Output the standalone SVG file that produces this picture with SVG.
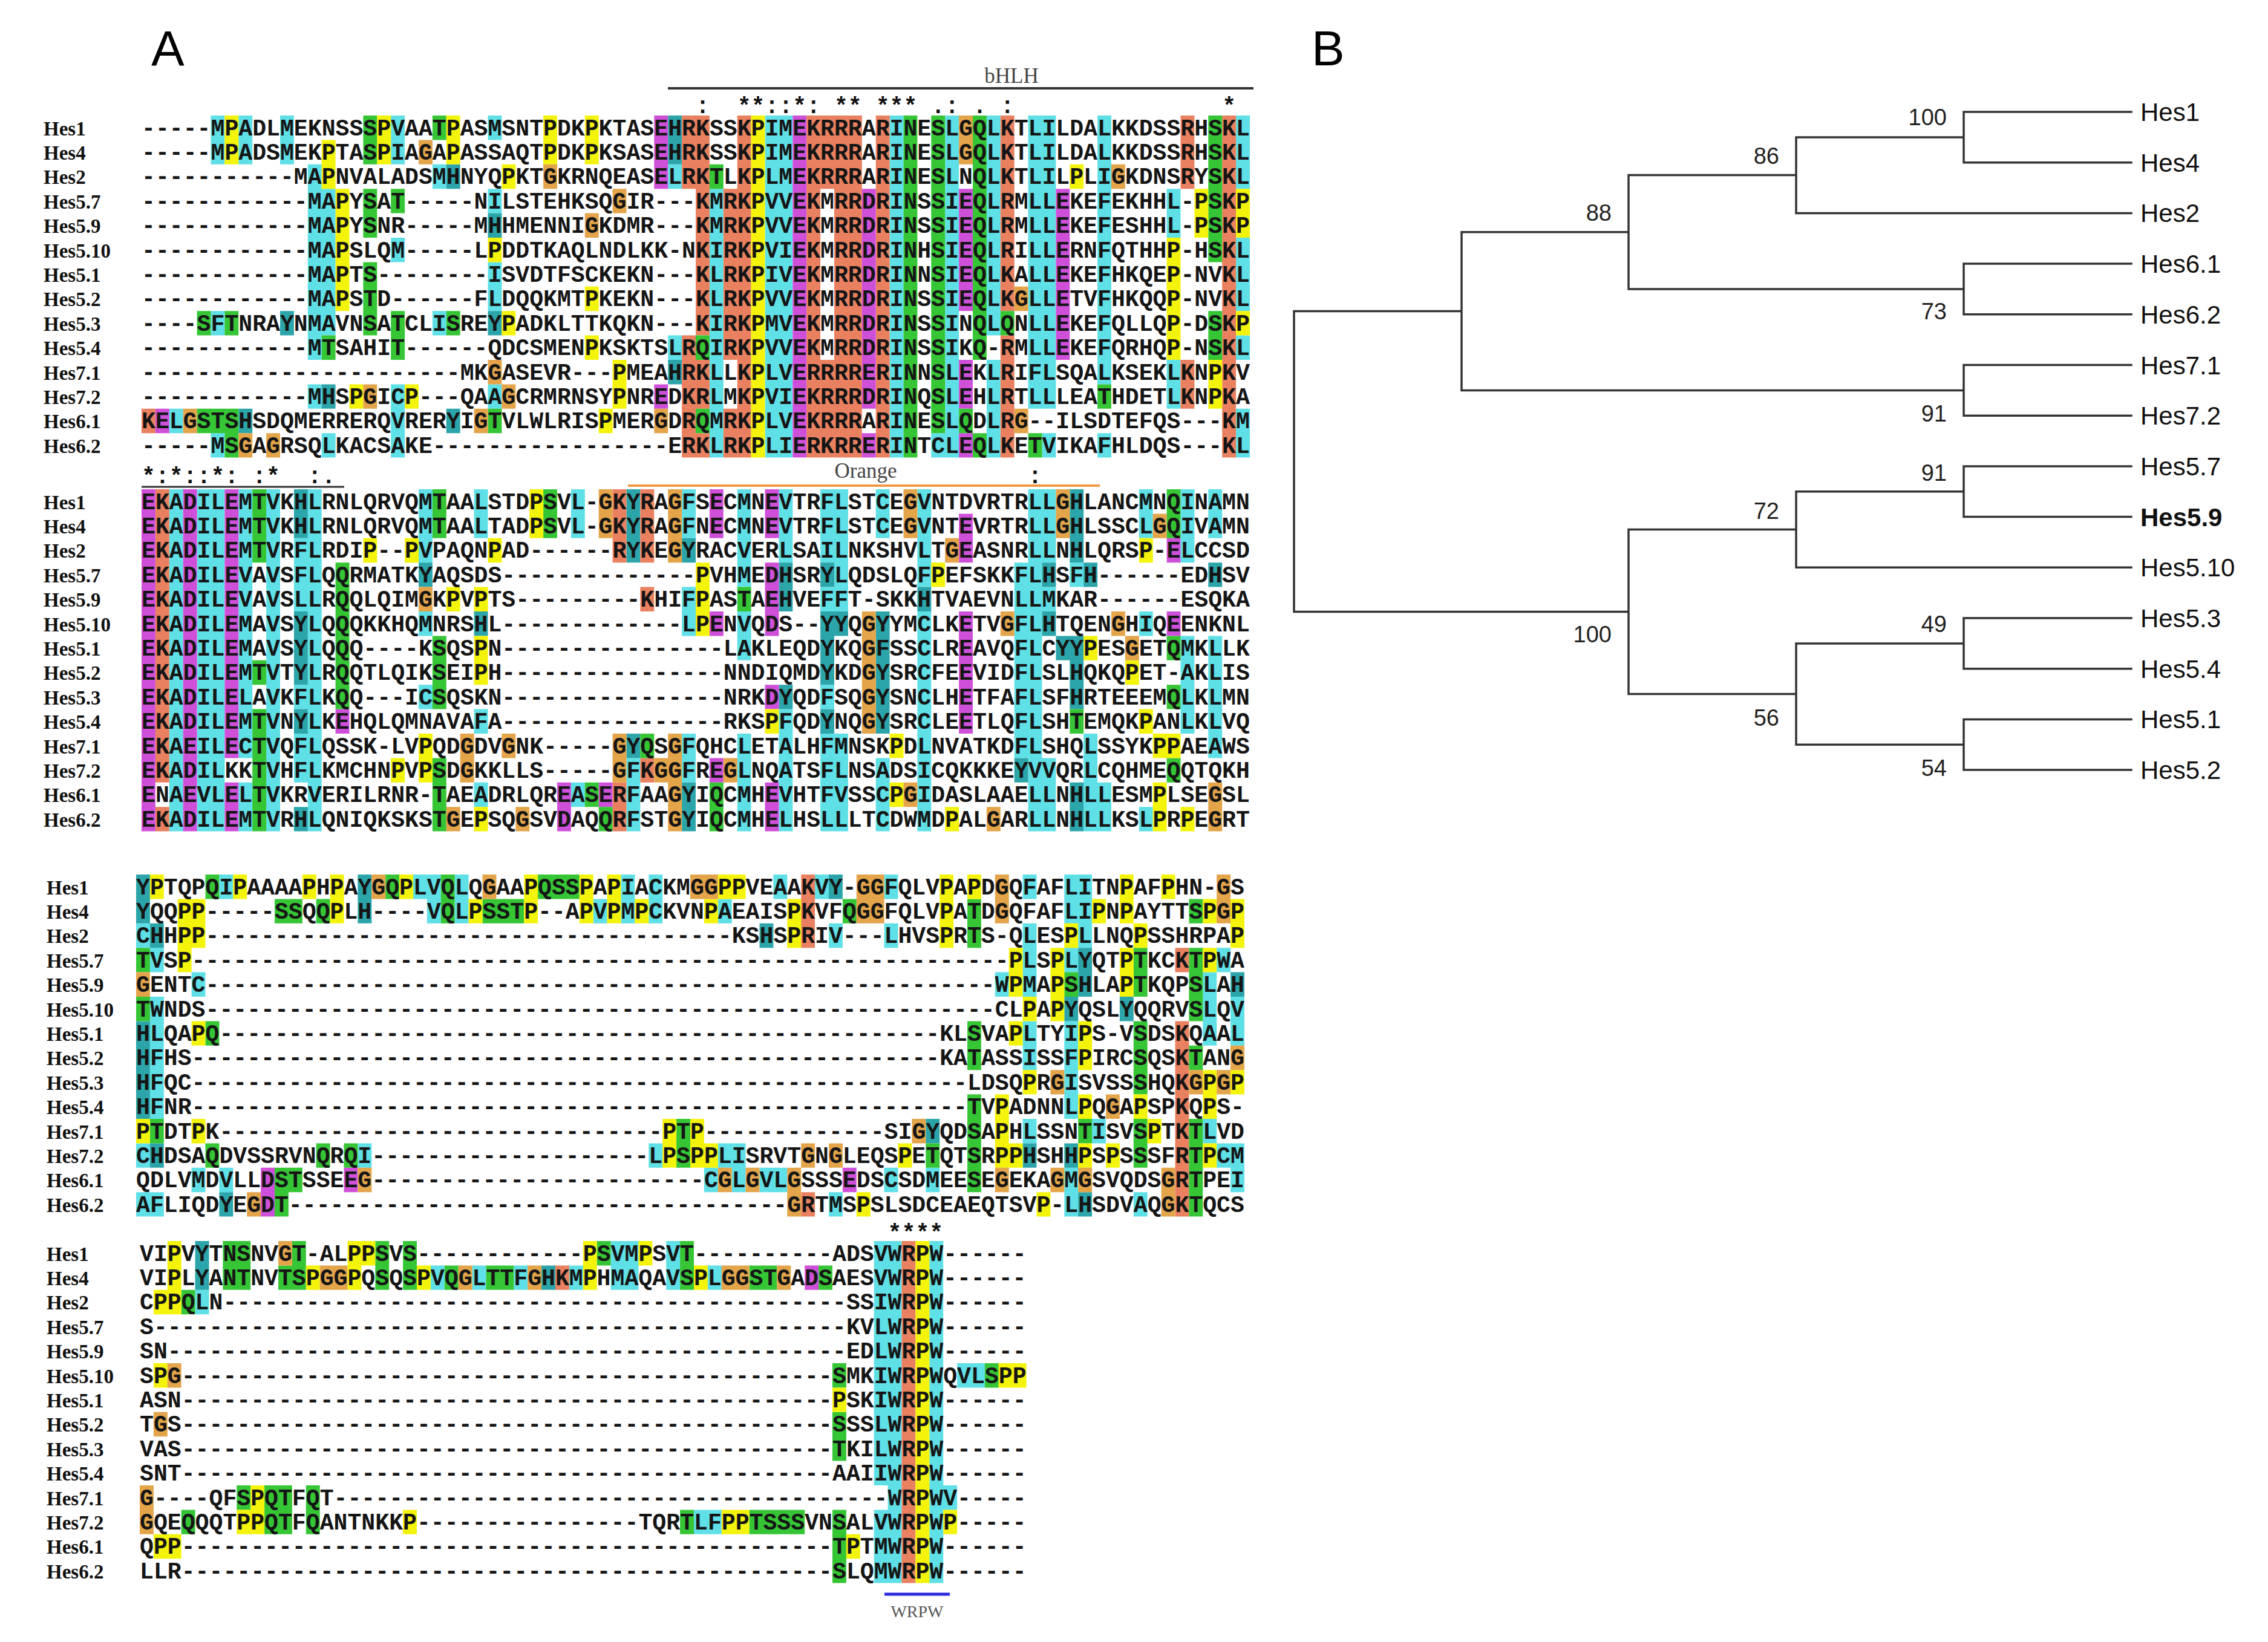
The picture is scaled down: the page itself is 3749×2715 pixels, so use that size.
<svg xmlns="http://www.w3.org/2000/svg" width="3749" height="2715" viewBox="0 0 3749 2715">
<style>
.s{font-family:"Liberation Mono","DejaVu Sans Mono",monospace;font-size:38.16px;font-weight:bold;fill:#151515}
.n{font-family:"Liberation Serif","DejaVu Serif",serif;font-size:33px;font-weight:bold;fill:#111}
.mk{font-family:"Liberation Mono","DejaVu Sans Mono",monospace;font-size:38.16px;font-weight:bold;fill:#111;white-space:pre}
.hd{font-family:"Liberation Serif","DejaVu Serif",serif;font-size:35px;fill:#444;text-anchor:middle}
.tip{font-family:"Liberation Sans",Arial,sans-serif;font-size:42px;fill:#111}
.bs{font-family:"Liberation Sans",Arial,sans-serif;font-size:38px;fill:#222;text-anchor:end}
.pl{font-family:"Liberation Sans",Arial,sans-serif;font-size:82px;fill:#000}
.C{fill:#5fdfe6}.T{fill:#2ca5aa}.R{fill:#e9805f}.M{fill:#cf50d8}.G{fill:#35c535}.Y{fill:#f3f30c}.O{fill:#e3a44a}
.br{fill:none;stroke:#333;stroke-width:3.5;stroke-linecap:square}
</style>
<rect x="0" y="0" width="3749" height="2715" fill="#fff"/>
<text class="pl" x="250" y="108">A</text>
<text class="pl" x="2168" y="108">B</text>

<g id="header1">
<line x1="1104" y1="146" x2="2072" y2="146" stroke="#333" stroke-width="4"/>
<text class="hd" x="1672" y="137">bHLH</text>
<text class="mk" x="1150" y="187" xml:space="preserve">:  **::*: ** *** .: . :</text>
<text class="mk" x="2020.2" y="187">*</text>
</g>

<g id="block1" transform="translate(0 191)">
<g transform="translate(234 0) scale(22.9 40.4)">
<path class="C" d="M5 0h1v2h-1zM7 0h1v2h-1zM10 0h1v2h-1zM18 0h1v2h-1zM25 0h1v1h-1zM21 2h1v1h-1zM12 2h1v8h-1zM12 11h1v1h-1zM13 3h1v6h-1zM25 3h1v1h-1zM18 5h1v1h-1zM25 6h1v2h-1zM5 8h1v1h-1zM21 8h1v1h-1zM18 11h1v3h-1zM25 11h1v1h-1zM2 12h1v1h-1zM5 13h1v1h-1zM13 13h1v1h-1zM38 2h1v1h-1zM38 9h1v1h-1zM41 3h1v11h-1zM45 0h2v14h-2zM54 0h1v14h-1zM57 13h1v1h-1zM58 0h1v14h-1zM61 0h1v9h-1zM61 10h1v4h-1zM64 0h2v12h-2zM65 13h1v1h-1zM69 0h1v11h-1zM69 13h1v1h-1zM74 3h1v2h-1zM74 10h1v2h-1zM79 0h1v3h-1zM79 5h1v3h-1zM79 9h1v1h-1zM79 12h1v2h-1z"/>
<path class="T" d="M22 2h1v1h-1zM25 4h1v1h-1zM10 8h1v1h-1zM25 8h1v1h-1zM13 11h1v1h-1zM7 12h1v1h-1zM22 12h1v1h-1zM38 0h1v2h-1zM38 10h1v1h-1z"/>
<path class="R" d="M0 12h1v1h-1zM39 0h1v3h-1zM39 9h1v5h-1zM40 0h1v9h-1zM40 10h1v2h-1zM40 13h1v1h-1zM42 3h1v7h-1zM42 12h1v2h-1zM43 0h1v14h-1zM48 0h1v14h-1zM49 0h1v3h-1zM49 10h1v4h-1zM50 0h2v14h-2zM53 0h1v14h-1zM62 0h1v8h-1zM62 9h1v5h-1zM75 0h1v3h-1zM75 10h1v2h-1zM78 0h1v14h-1z"/>
<path class="M" d="M1 12h1v1h-1zM37 0h1v3h-1zM37 11h1v1h-1zM47 0h1v14h-1zM52 3h1v9h-1zM52 13h1v1h-1zM59 3h1v5h-1zM59 10h1v2h-1zM59 13h1v1h-1zM66 3h1v7h-1z"/>
<path class="G" d="M16 0h1v2h-1zM16 3h1v2h-1zM16 6h1v3h-1zM21 0h1v1h-1zM18 3h1v1h-1zM18 8h1v2h-1zM4 8h1v1h-1zM6 8h1v1h-1zM22 8h1v1h-1zM13 9h1v1h-1zM4 12h3v1h-3zM25 12h1v1h-1zM6 13h1v1h-1zM40 9h1v1h-1zM40 12h1v1h-1zM41 2h1v1h-1zM55 0h1v14h-1zM57 0h1v13h-1zM59 12h1v1h-1zM60 0h1v10h-1zM60 13h1v1h-1zM62 8h1v1h-1zM64 13h1v1h-1zM69 11h1v1h-1zM77 0h1v6h-1zM77 8h1v2h-1z"/>
<path class="Y" d="M6 0h1v2h-1zM17 0h1v2h-1zM22 0h1v2h-1zM29 0h1v2h-1zM32 0h1v2h-1zM13 1h1v2h-1zM26 2h1v1h-1zM14 3h1v5h-1zM25 5h1v1h-1zM32 7h1v1h-1zM26 8h1v1h-1zM32 9h1v1h-1zM34 10h1v2h-1zM15 11h1v1h-1zM19 11h1v1h-1zM33 12h1v1h-1zM44 0h1v14h-1zM67 2h1v1h-1zM74 5h1v5h-1zM76 3h1v2h-1zM77 10h1v2h-1zM79 3h1v2h-1zM79 8h1v1h-1z"/>
<path class="O" d="M20 1h1v1h-1zM29 2h1v1h-1zM34 3h1v1h-1zM32 4h1v1h-1zM25 10h1v1h-1zM16 11h1v1h-1zM26 11h1v1h-1zM3 12h1v1h-1zM24 12h1v1h-1zM7 13h1v1h-1zM9 13h1v1h-1zM37 12h1v1h-1zM59 0h1v2h-1zM63 7h1v1h-1zM63 12h1v1h-1zM70 2h1v1h-1z"/>
</g>
<g class="n">
<text x="72" y="32.5">Hes1</text><text x="72" y="72.9">Hes4</text><text x="72" y="113.3">Hes2</text><text x="72" y="153.7">Hes5.7</text><text x="72" y="194.1">Hes5.9</text><text x="72" y="234.5">Hes5.10</text><text x="72" y="274.9">Hes5.1</text><text x="72" y="315.3">Hes5.2</text><text x="72" y="355.7">Hes5.3</text><text x="72" y="396.1">Hes5.4</text><text x="72" y="436.5">Hes7.1</text><text x="72" y="476.9">Hes7.2</text><text x="72" y="517.3">Hes6.1</text><text x="72" y="557.7">Hes6.2</text>
</g>
<g class="s">
<text x="234" y="32.5">-----MPADLMEKNSSSPVAATPASMSNTPDKPKTAS<tspan x="1081.3">EHRKSSKPIMEKRRRARINESLGQLKTLILDALKKDSSRHSKL</tspan></text>
<text x="234" y="72.9">-----MPADSMEKPTASPIAGAPASSAQTPDKPKSAS<tspan x="1081.3">EHRKSSKPIMEKRRRARINESLGQLKTLILDALKKDSSRHSKL</tspan></text>
<text x="234" y="113.3">-----------MAPNVALADSMHNYQPKTGKRNQEAS<tspan x="1081.3">ELRKTLKPLMEKRRRARINESLNQLKTLILPLIGKDNSRYSKL</tspan></text>
<text x="234" y="153.7">------------MAPYSAT-----NILSTEHKSQGIR<tspan x="1081.3">---KMRKPVVEKMRRDRINSSIEQLRMLLEKEFEKHHL-PSKP</tspan></text>
<text x="234" y="194.1">------------MAPYSNR-----MHHMENNIGKDMR<tspan x="1081.3">---KMRKPVVEKMRRDRINSSIEQLRMLLEKEFESHHL-PSKP</tspan></text>
<text x="234" y="234.5">------------MAPSLQM-----LPDDTKAQLNDLK<tspan x="1081.3">K-NKIRKPVIEKMRRDRINHSIEQLRILLERNFQTHHP-HSKL</tspan></text>
<text x="234" y="274.9">------------MAPTS--------ISVDTFSCKEKN<tspan x="1081.3">---KLRKPIVEKMRRDRINNSIEQLKALLEKEFHKQEP-NVKL</tspan></text>
<text x="234" y="315.3">------------MAPSTD------FLDQQKMTPKEKN<tspan x="1081.3">---KLRKPVVEKMRRDRINSSIEQLKGLLETVFHKQQP-NVKL</tspan></text>
<text x="234" y="355.7">----SFTNRAYNMAVNSATCLISREYPADKLTTKQKN<tspan x="1081.3">---KIRKPMVEKMRRDRINSSINQLQNLLEKEFQLLQP-DSKP</tspan></text>
<text x="234" y="396.1">------------MTSAHIT------QDCSMENPKSKT<tspan x="1081.3">SLRQIRKPVVEKMRRDRINSSIKQ-RMLLEKEFQRHQP-NSKL</tspan></text>
<text x="234" y="436.5">-----------------------<tspan x="760.7">MKGASEVR---PME</tspan><tspan x="1081.3">AHRKLLKPLVERRRRERINNSLEKLRIFLSQALKSEKLKNPKV</tspan></text>
<text x="234" y="476.9">------------MHSPGICP---QAAGCRMRNSYPNR<tspan x="1081.3">EDKRLMKPVIEKRRRDRINQSLEHLRTLLLEATHDETLKNPKA</tspan></text>
<text x="234" y="517.3">KELGSTSHSDQMERRERQVRERYIGTVLWLRISPMER<tspan x="1081.3">GDRQMRKPLVEKRRRARINESLQDLRG--ILSDTEFQS---KM</tspan></text>
<text x="234" y="557.7">-----MSGAGRSQLKACSAKE----------------<tspan x="1081.3">-ERKLRKPLIERKRRERINTCLEQLKETVIKAFHLDQS---KL</tspan></text>
</g>
</g>

<g id="header2">
<text class="mk" x="234" y="799" xml:space="preserve">*:*::*: :*  :.</text>
<line x1="234" y1="805" x2="569" y2="805" stroke="#333" stroke-width="3"/>
<line x1="1038" y1="803" x2="1818" y2="803" stroke="#f09a48" stroke-width="4"/>
<text class="hd" x="1431" y="790">Orange</text>
<text class="mk" x="1699.6" y="799">:</text>
</g>

<g id="block2" transform="translate(0 809)">
<g transform="translate(234 0) scale(22.9 40.4)">
<path class="C" d="M2 0h1v14h-1zM4 0h2v14h-2zM7 0h1v11h-1zM7 12h1v2h-1zM9 0h1v14h-1zM12 0h1v14h-1zM11 2h1v3h-1zM11 8h1v1h-1zM11 10h1v2h-1zM20 0h1v3h-1zM24 0h1v2h-1zM31 0h1v2h-1zM20 5h1v1h-1zM20 8h1v1h-1zM24 9h1v1h-1zM24 12h1v1h-1zM31 12h1v1h-1zM35 11h1v3h-1zM39 0h1v2h-1zM39 4h1v2h-1zM39 10h1v2h-1zM43 0h1v4h-1zM43 5h1v2h-1zM43 10h1v4h-1zM46 0h1v3h-1zM46 9h1v5h-1zM49 0h1v3h-1zM49 4h1v1h-1zM49 8h1v1h-1zM49 10h1v4h-1zM50 0h1v5h-1zM50 10h1v4h-1zM53 0h1v2h-1zM53 11h1v3h-1zM56 0h1v4h-1zM56 5h1v9h-1zM63 3h1v8h-1zM64 0h1v14h-1zM65 0h1v3h-1zM65 4h1v1h-1zM65 11h1v3h-1zM67 3h1v1h-1zM68 10h1v4h-1zM69 12h1v2h-1zM72 0h1v2h-1zM72 5h1v1h-1zM72 13h1v1h-1zM75 0h1v3h-1zM75 6h1v4h-1zM77 0h1v2h-1zM77 6h1v5h-1z"/>
<path class="T" d="M11 0h1v2h-1zM11 5h1v3h-1zM11 9h1v1h-1zM11 13h1v1h-1zM35 0h1v3h-1zM35 10h1v1h-1zM24 5h1v1h-1zM20 3h1v1h-1zM39 2h1v1h-1zM39 12h1v2h-1zM46 3h1v2h-1zM46 8h1v1h-1zM49 3h1v1h-1zM49 5h1v3h-1zM49 9h1v1h-1zM50 5h1v1h-1zM53 5h1v5h-1zM56 4h1v1h-1zM63 11h1v1h-1zM65 3h1v1h-1zM65 5h1v1h-1zM66 6h1v1h-1zM67 0h1v3h-1zM67 6h1v3h-1zM67 12h1v2h-1zM68 3h1v1h-1zM77 3h1v1h-1z"/>
<path class="R" d="M1 0h1v12h-1zM1 13h1v1h-1zM34 0h1v3h-1zM34 12h1v2h-1zM36 0h1v3h-1zM36 4h1v1h-1zM36 11h1v1h-1z"/>
<path class="M" d="M0 0h1v14h-1zM3 0h1v14h-1zM6 0h1v11h-1zM6 12h1v2h-1zM14 9h1v1h-1zM30 12h1v2h-1zM33 12h1v1h-1zM41 0h1v2h-1zM41 5h1v1h-1zM41 11h1v1h-1zM45 0h1v2h-1zM45 3h1v3h-1zM45 8h1v1h-1zM45 12h1v2h-1zM59 1h1v2h-1zM59 5h1v5h-1zM74 2h1v1h-1zM74 5h1v1h-1z"/>
<path class="G" d="M8 0h1v3h-1zM8 7h1v1h-1zM8 9h1v5h-1zM14 3h1v6h-1zM21 0h1v2h-1zM21 6h1v3h-1zM21 11h1v3h-1zM29 0h1v2h-1zM36 10h1v1h-1zM32 12h1v1h-1zM33 13h1v1h-1zM41 12h1v2h-1zM43 4h1v1h-1zM67 9h1v1h-1zM74 0h1v2h-1zM74 6h1v1h-1zM74 8h1v1h-1zM74 11h1v1h-1z"/>
<path class="Y" d="M28 0h1v2h-1zM16 2h1v1h-1zM19 2h1v1h-1zM25 2h1v1h-1zM22 4h1v1h-1zM24 4h1v1h-1zM24 6h1v2h-1zM24 13h1v1h-1zM20 10h1v2h-1zM18 11h1v1h-1zM40 3h1v3h-1zM45 9h1v1h-1zM54 10h1v1h-1zM54 12h1v1h-1zM57 3h1v1h-1zM58 13h1v1h-1zM68 6h1v1h-1zM71 7h1v1h-1zM72 2h1v1h-1zM72 9h1v1h-1zM73 10h1v1h-1zM73 12h1v2h-1zM74 10h1v1h-1zM75 13h1v1h-1z"/>
<path class="O" d="M33 0h1v2h-1zM20 4h1v1h-1zM23 10h1v2h-1zM26 10h1v1h-1zM34 10h1v2h-1zM22 13h1v1h-1zM27 13h1v1h-1zM37 11h1v1h-1zM38 0h1v3h-1zM38 10h1v4h-1zM42 11h1v1h-1zM52 5h1v5h-1zM55 0h1v2h-1zM55 12h1v1h-1zM58 2h1v1h-1zM61 13h1v1h-1zM62 5h1v1h-1zM66 0h1v2h-1zM70 5h1v1h-1zM71 6h1v1h-1zM73 1h1v1h-1zM77 12h1v2h-1z"/>
</g>
<g class="n">
<text x="72" y="32.5">Hes1</text><text x="72" y="72.9">Hes4</text><text x="72" y="113.3">Hes2</text><text x="72" y="153.7">Hes5.7</text><text x="72" y="194.1">Hes5.9</text><text x="72" y="234.5">Hes5.10</text><text x="72" y="274.9">Hes5.1</text><text x="72" y="315.3">Hes5.2</text><text x="72" y="355.7">Hes5.3</text><text x="72" y="396.1">Hes5.4</text><text x="72" y="436.5">Hes7.1</text><text x="72" y="476.9">Hes7.2</text><text x="72" y="517.3">Hes6.1</text><text x="72" y="557.7">Hes6.2</text>
</g>
<g class="s">
<text x="234" y="32.5">EKADILEMTVKHLRNLQRVQMTAALSTDPSVL-GKYR<tspan x="1081.3">AGFSECMNEVTRFLSTCEGVNTDVRTRLLGHLANCMNQINAMN</tspan></text>
<text x="234" y="72.9">EKADILEMTVKHLRNLQRVQMTAALTADPSVL-GKYR<tspan x="1081.3">AGFNECMNEVTRFLSTCEGVNTEVRTRLLGHLSSCLGQIVAMN</tspan></text>
<text x="234" y="113.3">EKADILEMTVRFLRDIP--PVPAQNPAD------RYK<tspan x="1081.3">EGYRACVERLSAILNKSHVLTGEASNRLLNHLQRSP-ELCCSD</tspan></text>
<text x="234" y="153.7">EKADILEVAVSFLQQRMATKYAQSDS-----------<tspan x="1081.3">---PVHMEDHSRYLQDSLQFPEFSKKFLHSFH------EDHSV</tspan></text>
<text x="234" y="194.1">EKADILEVAVSLLRQQLQIMGKPVPTS---------K<tspan x="1081.3">HIFPASTAEHVEFFT-SKKHTVAEVNLLMKAR------ESQKA</tspan></text>
<text x="234" y="234.5">EKADILEMAVSYLQQQKKHQMNRSHL-----------<tspan x="1081.3">--LPENVQDS--YYQGYYMCLKETVGFLHTQENGHIQEENKNL</tspan></text>
<text x="234" y="274.9">EKADILEMAVSYLQQQ----KSQSPN-----------<tspan x="1081.3">-----LAKLEQDYKQGFSSCLREAVQFLCYYPESGETQMKLLK</tspan></text>
<text x="234" y="315.3">EKADILEMTVTYLRQQTLQIKSEIPH-----------<tspan x="1081.3">-----NNDIQMDYKDGYSRCFEEVIDFLSLHQKQPET-AKLIS</tspan></text>
<text x="234" y="355.7">EKADILELAVKFLKQQ---ICSQSKN-----------<tspan x="1081.3">-----NRKDYQDFSQGYSNCLHETFAFLSFHRTEEEMQLKLMN</tspan></text>
<text x="234" y="396.1">EKADILEMTVNYLKEHQLQMNAVAFA-----------<tspan x="1081.3">-----RKSPFQDYNQGYSRCLEETLQFLSHTEMQKPANLKLVQ</tspan></text>
<text x="234" y="436.5">EKAEILECTVQFLQSSK-LVPQDGDVGNK-----GYQ<tspan x="1081.3">SGFQHCLETALHFMNSKPDLNVATKDFLSHQLSSYKPPAEAWS</tspan></text>
<text x="234" y="476.9">EKADILKKTVHFLKMCHNPVPSDGKKLLS-----GFK<tspan x="1081.3">GGFREGLNQATSFLNSADSICQKKKEYVVQRLCQHMEQQTQKH</tspan></text>
<text x="234" y="517.3">ENAEVLELTVKRVERILRNR-TAEADRLQREASERFA<tspan x="1081.3">AGYIQCMHEVHTFVSSCPGIDASLAAELLNHLLESMPLSEGSL</tspan></text>
<text x="234" y="557.7">EKADILEMTVRHLQNIQKSKSTGEPSQGSVDAQQRFS<tspan x="1081.3">TGYIQCMHELHSLLLTCDWMDPALGARLLNHLLKSLPRPEGRT</tspan></text>
</g>
</g>

<g id="block3" transform="translate(0 1446)">
<g transform="translate(225 0) scale(22.9 40.4)">
<path class="C" d="M0 2h1v1h-1zM0 11h1v1h-1zM0 13h2v1h-2zM1 3h1v1h-1zM1 5h1v5h-1zM6 0h1v1h-1zM20 0h1v1h-1zM21 0h1v2h-1zM23 0h1v2h-1zM33 1h1v1h-1zM35 0h1v2h-1zM37 0h1v2h-1zM4 4h1v1h-1zM16 11h1v1h-1zM4 12h1v1h-1zM6 12h1v1h-1zM46 0h1v1h-1zM49 0h1v1h-1zM54 0h1v1h-1zM64 0h1v1h-1zM67 0h2v2h-2zM42 1h1v1h-1zM50 2h1v1h-1zM54 2h1v1h-1zM64 2h1v3h-1zM68 2h1v1h-1zM67 3h1v1h-1zM78 3h1v1h-1zM62 4h1v1h-1zM77 4h1v3h-1zM79 5h1v2h-1zM64 6h1v2h-1zM67 6h1v4h-1zM64 10h1v1h-1zM69 10h1v1h-1zM77 10h1v1h-1zM37 11h1v1h-1zM42 11h2v1h-2zM78 11h1v1h-1zM79 11h1v2h-1zM41 12h1v1h-1zM43 12h1v1h-1zM45 12h2v1h-2zM54 12h1v1h-1zM57 12h1v1h-1zM67 12h1v2h-1zM50 13h1v1h-1zM72 13h1v1h-1z"/>
<path class="T" d="M0 0h1v2h-1zM0 6h1v4h-1zM16 0h1v2h-1zM1 2h1v1h-1zM1 11h1v1h-1zM6 13h1v1h-1zM50 0h1v1h-1zM45 2h1v1h-1zM68 3h1v2h-1zM67 5h1v1h-1zM71 5h1v1h-1zM57 10h1v1h-1zM64 11h1v1h-1zM67 11h1v1h-1zM68 13h1v1h-1zM79 4h1v1h-1z"/>
<path class="R" d="M48 0h1v3h-1zM48 13h1v1h-1zM75 3h1v1h-1zM75 6h1v8h-1z"/>
<path class="M" d="M9 12h1v2h-1zM15 12h1v1h-1zM51 12h1v1h-1z"/>
<path class="G" d="M5 0h1v1h-1zM18 0h1v1h-1zM22 0h1v2h-1zM29 0h3v1h-3zM10 1h2v1h-2zM13 1h1v1h-1zM25 1h3v1h-3zM0 3h1v1h-1zM0 5h1v1h-1zM5 6h1v1h-1zM1 10h1v1h-1zM5 11h1v1h-1zM13 11h1v1h-1zM15 11h1v1h-1zM10 12h2v1h-2zM10 13h1v1h-1zM51 1h1v1h-1zM60 1h1v2h-1zM60 6h1v2h-1zM60 9h1v4h-1zM76 1h1v1h-1zM72 3h1v2h-1zM72 6h1v3h-1zM72 10h1v2h-1zM76 3h1v3h-1zM76 7h1v1h-1zM76 10h1v4h-1zM67 4h1v1h-1zM39 10h1v2h-1zM57 11h1v1h-1zM68 10h1v1h-1z"/>
<path class="Y" d="M1 0h1v1h-1zM7 0h1v1h-1zM12 0h1v1h-1zM14 0h1v2h-1zM19 0h1v1h-1zM28 0h1v2h-1zM32 0h1v2h-1zM34 0h1v2h-1zM3 1h2v2h-2zM24 1h1v1h-1zM36 1h1v1h-1zM3 3h1v1h-1zM4 6h1v1h-1zM0 10h1v1h-1zM4 10h1v1h-1zM42 0h2v1h-2zM58 0h1v3h-1zM60 0h1v1h-1zM71 0h1v2h-1zM74 0h1v1h-1zM41 1h1v1h-1zM47 1h1v2h-1zM69 1h1v1h-1zM77 1h1v1h-1zM79 1h1v2h-1zM67 2h1v1h-1zM72 2h1v1h-1zM63 3h1v2h-1zM66 3h1v3h-1zM71 3h1v2h-1zM77 3h1v1h-1zM64 5h1v1h-1zM63 6h1v1h-1zM68 6h1v2h-1zM64 8h1v1h-1zM77 8h1v2h-1zM79 8h1v1h-1zM62 9h1v3h-1zM68 9h1v1h-1zM72 9h1v1h-1zM38 10h1v2h-1zM40 10h1v2h-1zM73 10h1v1h-1zM41 11h1v1h-1zM55 11h1v1h-1zM63 11h1v1h-1zM68 11h1v1h-1zM70 11h1v1h-1zM77 11h1v1h-1zM52 13h1v1h-1zM65 13h1v1h-1z"/>
<path class="O" d="M17 0h1v1h-1zM25 0h1v1h-1zM0 4h1v1h-1zM16 12h1v1h-1zM8 13h1v1h-1zM40 0h2v1h-2zM52 0h2v2h-2zM62 0h1v2h-1zM78 0h1v2h-1zM79 7h1v1h-1zM66 8h1v1h-1zM76 8h1v1h-1zM78 8h1v1h-1zM70 9h1v1h-1zM56 10h1v1h-1zM48 11h1v1h-1zM50 11h1v1h-1zM42 12h1v1h-1zM44 12h1v1h-1zM47 12h1v2h-1zM62 12h1v1h-1zM66 12h1v1h-1zM68 12h1v1h-1zM74 12h1v2h-1z"/>
</g>
<g class="n">
<text x="77" y="32.5">Hes1</text><text x="77" y="72.9">Hes4</text><text x="77" y="113.3">Hes2</text><text x="77" y="153.7">Hes5.7</text><text x="77" y="194.1">Hes5.9</text><text x="77" y="234.5">Hes5.10</text><text x="77" y="274.9">Hes5.1</text><text x="77" y="315.3">Hes5.2</text><text x="77" y="355.7">Hes5.3</text><text x="77" y="396.1">Hes5.4</text><text x="77" y="436.5">Hes7.1</text><text x="77" y="476.9">Hes7.2</text><text x="77" y="517.3">Hes6.1</text><text x="77" y="557.7">Hes6.2</text>
</g>
<g class="s">
<text x="225" y="32.5">YPTQPQIPAAAAPHPAYGQPLVQLQGAAPQSSPAPIA<tspan x="1072.3">CKMGGPPVEAAKVY-GGFQLVPAPDGQFAFLITNPAFPHN-GS</tspan></text>
<text x="225" y="72.9">YQQPP-----SSQQPLH----VQLPSSTP--APVPMP<tspan x="1072.3">CKVNPAEAISPKVFQGGFQLVPATDGQFAFLIPNPAYTTSPGP</tspan></text>
<text x="225" y="113.3">CHHPP--------------------------------------<tspan x="1209.7">KSHSPRIV---LHVSPRTS-QLESPLLNQPSSHRPAP</tspan></text>
<text x="225" y="153.7">TVSP-----------------------------------------------------------<tspan x="1667.7">PLSPLYQTPTKCKTPWA</tspan></text>
<text x="225" y="194.1">GENTC---------------------------------------------------------<tspan x="1644.8">WPMAPSHLAPTKQPSLAH</tspan></text>
<text x="225" y="234.5">TWNDS---------------------------------------------------------<tspan x="1644.8">CLPAPYQSLYQQRVSLQV</tspan></text>
<text x="225" y="274.9">HLQAPQ----------------------------------------------------<tspan x="1553.2">KLSVAPLTYIPS-VSDSKQAAL</tspan></text>
<text x="225" y="315.3">HFHS------------------------------------------------------<tspan x="1553.2">KATASSISSFPIRCSQSKTANG</tspan></text>
<text x="225" y="355.7">HFQC--------------------------------------------------------<tspan x="1599">LDSQPRGISVSSSHQKGPGP</tspan></text>
<text x="225" y="396.1">HFNR--------------------------------------------------------<tspan x="1599">TVPADNNLPQGAPSPKQPS-</tspan></text>
<text x="225" y="436.5">PTDTPK--------------------------------<tspan x="1095.2">PTP-------------</tspan><tspan x="1461.6">SIGYQDSAPHLSSNTISVSPTKTLVD</tspan></text>
<text x="225" y="476.9">CHDSAQDVSSRVNQRQI--------------------<tspan x="1072.3">LPSPPLISRVTGNGLEQSPETQTSRPPHSHHPSPSSSFRTPCM</tspan></text>
<text x="225" y="517.3">QDLVMDVLLDSTSSEEG------------------------<tspan x="1163.9">CGLGVLGSSSEDSCSDMEESEGEKAGMGSVQDSGRTPEI</tspan></text>
<text x="225" y="557.7">AFLIQDYEGDT------------------------------------<tspan x="1301.3">GRTMSPSLSDCEAEQTSVP-LHSDVAQGKTQCS</tspan></text>
</g>
</g>

<g id="header4">
<text class="mk" x="1467.6" y="2050">****</text>
<line x1="1462" y1="2636" x2="1570" y2="2636" stroke="#2a2ae0" stroke-width="5"/>
<text class="hd" x="1516" y="2674" style="font-size:28px;fill:#555">WRPW</text>
</g>

<g id="block4" transform="translate(0 2052)">
<g transform="translate(231 0) scale(22.9 40.4)">
<path class="C" d="M53 0h1v10h-1zM53 11h1v3h-1zM54 0h1v14h-1zM57 0h1v14h-1zM58 10h1v1h-1zM4 2h1v1h-1zM59 5h2v1h-2zM21 1h1v1h-1zM24 1h1v1h-1zM27 1h1v1h-1zM31 1h1v1h-1zM34 0h2v2h-2zM38 0h1v2h-1zM41 1h1v1h-1zM40 11h2v1h-2z"/>
<path class="T" d="M4 0h1v2h-1zM29 1h1v1h-1z"/>
<path class="R" d="M55 0h1v14h-1zM30 1h1v1h-1z"/>
<path class="M" d="M48 1h1v1h-1z"/>
<path class="G" d="M6 0h2v2h-2zM11 0h1v1h-1zM10 1h2v1h-2zM17 0h1v2h-1zM19 0h1v2h-1zM33 0h1v1h-1zM39 0h1v2h-1zM22 1h1v1h-1zM25 1h2v1h-2zM44 1h2v1h-2zM49 1h1v1h-1zM3 2h1v1h-1zM7 10h1v1h-1zM9 10h2v2h-2zM12 10h1v2h-1zM3 11h1v1h-1zM39 11h1v1h-1zM44 11h4v1h-4zM61 5h1v1h-1zM50 5h1v1h-1zM50 7h1v2h-1zM50 11h1v3h-1z"/>
<path class="Y" d="M2 0h1v2h-1zM15 0h2v1h-2zM15 1h1v1h-1zM12 1h1v1h-1zM20 1h1v1h-1zM32 0h1v2h-1zM36 0h1v1h-1zM40 1h1v1h-1zM56 0h1v14h-1zM1 2h2v1h-2zM1 5h1v1h-1zM62 5h2v1h-2zM50 6h1v1h-1zM8 10h1v1h-1zM7 11h2v1h-2zM19 11h1v1h-1zM42 11h2v1h-2zM58 11h1v1h-1zM1 12h2v1h-2zM51 12h1v1h-1z"/>
<path class="O" d="M10 0h1v1h-1zM13 1h2v1h-2zM23 1h1v1h-1zM28 1h1v1h-1zM42 1h2v1h-2zM46 1h1v1h-1zM2 5h1v1h-1zM1 7h1v1h-1zM0 10h1v2h-1z"/>
</g>
<g class="n">
<text x="77" y="32.5">Hes1</text><text x="77" y="72.9">Hes4</text><text x="77" y="113.3">Hes2</text><text x="77" y="153.7">Hes5.7</text><text x="77" y="194.1">Hes5.9</text><text x="77" y="234.5">Hes5.10</text><text x="77" y="274.9">Hes5.1</text><text x="77" y="315.3">Hes5.2</text><text x="77" y="355.7">Hes5.3</text><text x="77" y="396.1">Hes5.4</text><text x="77" y="436.5">Hes7.1</text><text x="77" y="476.9">Hes7.2</text><text x="77" y="517.3">Hes6.1</text><text x="77" y="557.7">Hes6.2</text>
</g>
<g class="s">
<text x="231" y="32.5">VIPVYTNSNVGT-ALPPSVS------------<tspan x="963.8">PSVMPSVT----------</tspan><tspan x="1376">ADSVWRPW------</tspan></text>
<text x="231" y="72.9">VIPLYANTNVTSPGGPQSQSPVQGLTTFGHKMPHMAQAVSPLGGSTGADSAESVWRPW------</text>
<text x="231" y="113.3">CPPQLN---------------------------------------------<tspan x="1398.9">SSIWRPW------</tspan></text>
<text x="231" y="153.7">S--------------------------------------------------<tspan x="1398.9">KVLWRPW------</tspan></text>
<text x="231" y="194.1">SN-------------------------------------------------<tspan x="1398.9">EDLWRPW------</tspan></text>
<text x="231" y="234.5">SPG-----------------------------------------------<tspan x="1376">SMKIWRPWQVLSPP</tspan></text>
<text x="231" y="274.9">ASN-----------------------------------------------<tspan x="1376">PSKIWRPW------</tspan></text>
<text x="231" y="315.3">TGS-----------------------------------------------<tspan x="1376">SSSLWRPW------</tspan></text>
<text x="231" y="355.7">VAS-----------------------------------------------<tspan x="1376">TKILWRPW------</tspan></text>
<text x="231" y="396.1">SNT-----------------------------------------------<tspan x="1376">AAIIWRPW------</tspan></text>
<text x="231" y="436.5">G----QFSPQTFQT----------------------------------------<tspan x="1467.6">WRPWV-----</tspan></text>
<text x="231" y="476.9">GQEQQQTPPQTFQANTNKKP----------------<tspan x="1055.4">TQRTLFPPTSSSVNSALVWRPWP-----</tspan></text>
<text x="231" y="517.3">QPP-----------------------------------------------<tspan x="1376">TPTMWRPW------</tspan></text>
<text x="231" y="557.7">LLR-----------------------------------------------<tspan x="1376">SLQMWRPW------</tspan></text>
</g>
</g>

<g id="connectors">
<path class="br" d="M2139 514.6V1011.6M2139 514.6H2416M2416 383.8V645.4M2416 383.8H2692M2692 289.6V478M2692 289.6H2969M2969 226.9V352.4M2969 226.9H3246M3246 185V268.7M3246 185H3523M3246 268.7H3523M2969 352.4H3523M2692 478H3246M3246 436.1V519.8M3246 436.1H3523M3246 519.8H3523M2416 645.4H3246M3246 603.5V687.2M3246 603.5H3523M3246 687.2H3523M2139 1011.6H2692M2692 875.5V1147.6M2692 875.5H2969M2969 812.8V938.3M2969 812.8H3246M3246 770.9V854.6M3246 770.9H3523M3246 854.6H3523M2969 938.3H3523M2692 1147.6H2969M2969 1063.9V1231.3M2969 1063.9H3246M3246 1022V1105.7M3246 1022H3523M3246 1105.7H3523M2969 1231.3H3246M3246 1189.4V1273.1M3246 1189.4H3523M3246 1273.1H3523"/>
</g>
<g id="bootstrap" class="bs">
<text x="3218" y="207">100</text>
<text x="2941" y="271">86</text>
<text x="2664" y="365">88</text>
<text x="3218" y="528">73</text>
<text x="3218" y="697">91</text>
<text x="3218" y="795">91</text>
<text x="2941" y="858">72</text>
<text x="2664" y="1062">100</text>
<text x="3218" y="1045">49</text>
<text x="2941" y="1200">56</text>
<text x="3218" y="1283">54</text>
</g>
<g class="tip">
<g id="tip-Hes1"><text x="3538" y="200">Hes1</text></g>
<g id="tip-Hes4"><text x="3538" y="283.7">Hes4</text></g>
<g id="tip-Hes2"><text x="3538" y="367.4">Hes2</text></g>
<g id="tip-Hes6.1"><text x="3538" y="451.1">Hes6.1</text></g>
<g id="tip-Hes6.2"><text x="3538" y="534.8">Hes6.2</text></g>
<g id="tip-Hes7.1"><text x="3538" y="618.5">Hes7.1</text></g>
<g id="tip-Hes7.2"><text x="3538" y="702.2">Hes7.2</text></g>
<g id="tip-Hes5.7"><text x="3538" y="785.9">Hes5.7</text></g>
<g id="tip-Hes5.9"><text x="3538" y="869.6" font-weight="bold">Hes5.9</text></g>
<g id="tip-Hes5.10"><text x="3538" y="953.3">Hes5.10</text></g>
<g id="tip-Hes5.3"><text x="3538" y="1037">Hes5.3</text></g>
<g id="tip-Hes5.4"><text x="3538" y="1120.7">Hes5.4</text></g>
<g id="tip-Hes5.1"><text x="3538" y="1204.4">Hes5.1</text></g>
<g id="tip-Hes5.2"><text x="3538" y="1288.1">Hes5.2</text></g>
</g>
</svg>
